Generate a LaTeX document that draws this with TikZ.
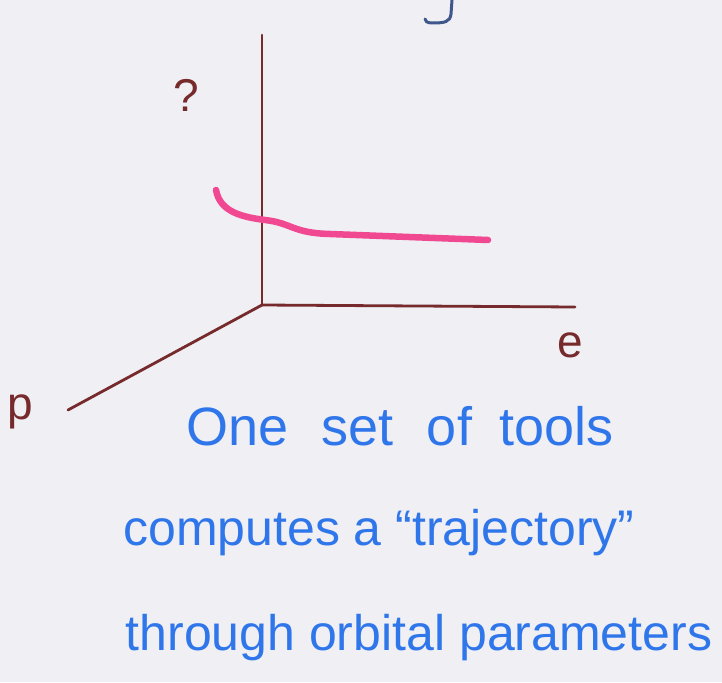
\documentclass[tikz,border=0pt]{standalone}
\usepackage{fontspec}
\setmainfont{Liberation Sans}
\definecolor{axisbrown}{RGB}{118,42,44}
\definecolor{trajpink}{RGB}{240,72,145}
\definecolor{inkblue}{RGB}{48,118,235}
\definecolor{inkdark}{RGB}{62,88,140}
\definecolor{paper}{RGB}{239,239,244}

\begin{document}
\begin{tikzpicture}[
    x=1pt, y=-1pt,
    axis/.style={draw=axisbrown, line width=2.8pt, line cap=round},
    traj/.style={draw=trajpink, line width=6.5pt, line cap=round},
    axislabel/.style={text=axisbrown, font=\fontsize{46}{46}\selectfont},
    note/.style={text=inkblue, font=\fontsize{50}{50}\selectfont, anchor=base}
]
    % papel
    \fill[paper] (0,0) rectangle (722,682);
    \useasboundingbox (0,0) rectangle (722,682);

    % ejes
    \coordinate (o) at (262,305);
    \coordinate (ztop) at (262,35);
    \coordinate (eend) at (575,307);
    \coordinate (pend) at (68,410);
    \draw[axis] (o) -- (ztop);
    \draw[axis] (o) -- (eend);
    \draw[axis] (o) -- (pend);

    \node[axislabel] (zlab) at (186,95) {?};
    \node[axislabel] (elab) at (570,345) {e};
    \node[axislabel] (plab) at (20,412) {p};

    % trayectoria
    \coordinate (t0) at (216,190);
    \coordinate (t1) at (488,240);
    \draw[traj] (t0) .. controls (220,212) and (242,217) .. (265,220)
        .. controls (292,223) and (292,233) .. (330,234) -- (t1);

    % trazo cortado arriba
    \draw[inkdark, line width=3pt, line cap=round]
        (452,0) -- (451,14) .. controls (450,22) and (445,23) .. (432,23)
        .. controls (427,23) and (425,21) .. (425,19);

    % texto
    \node[note, font=\fontsize{54}{54}\selectfont] (line1) at (400,445)
        {One\hspace{18pt} set\hspace{18pt} of\hspace{12pt} tools};
    \node[note] (line2) at (379,545) {computes a “trajectory”};
    \node[note] (line3) at (419,650) {through orbital parameters};
\end{tikzpicture}
\end{document}
